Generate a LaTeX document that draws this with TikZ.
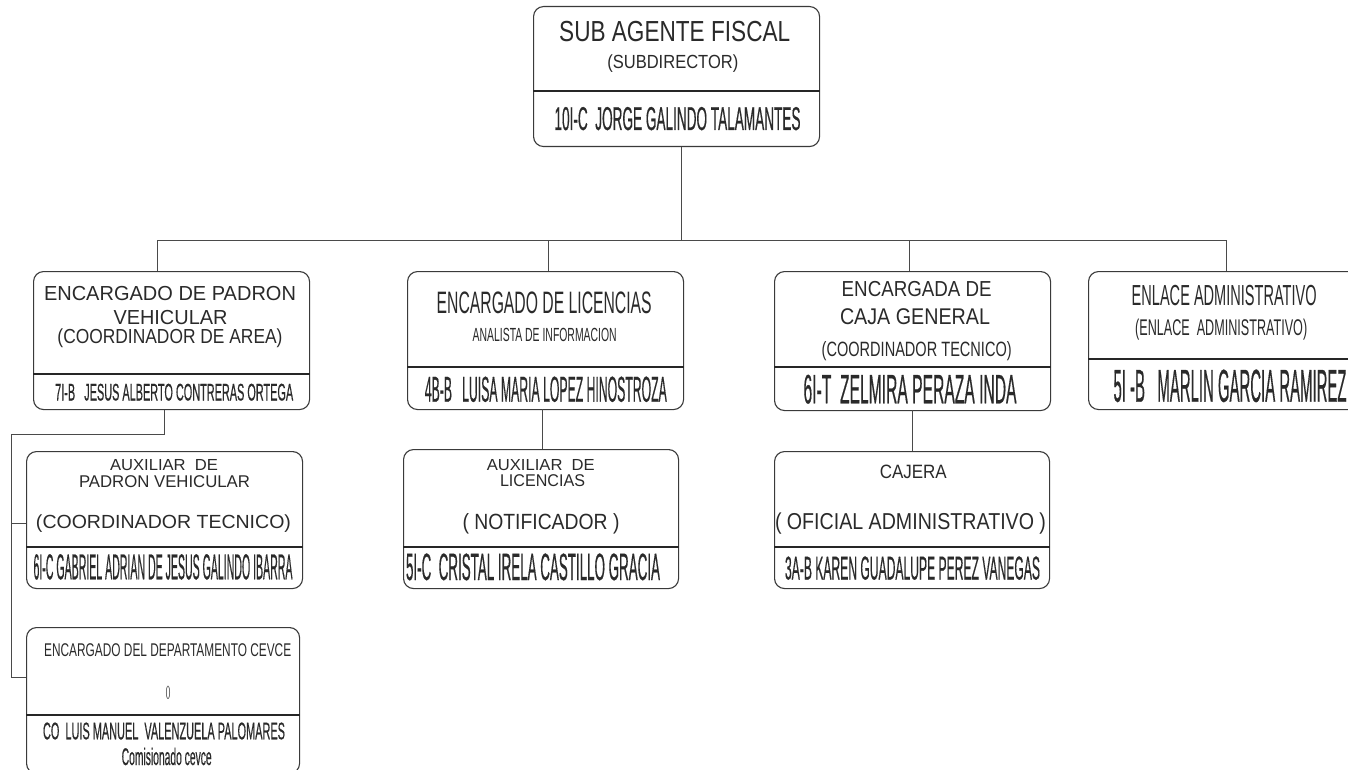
\documentclass[tikz,border=0pt]{standalone}
\usepackage{fontspec}
\setmainfont{Liberation Sans}
\newfontfamily\heavyfont[FakeBold=0.7]{Liberation Sans}
\usepackage{graphicx}
\definecolor{ink}{HTML}{2A2A2A}
\definecolor{edge}{HTML}{3A3A3A}
\definecolor{wire}{HTML}{4A4A4A}
\newsavebox\txbox
% \tx{size}{target width}{text}: natural height, width forced
\newcommand{\tx}[3]{\sbox\txbox{\fontsize{#1pt}{#1pt}\selectfont #3}%
  \pgfmathsetmacro\txfac{#2/\wd\txbox}\scalebox{\txfac}[1]{\usebox\txbox}}
\newcommand{\tb}[3]{\sbox\txbox{\heavyfont\fontsize{#1pt}{#1pt}\selectfont #3}%
  \pgfmathsetmacro\txfac{#2/\wd\txbox}\scalebox{\txfac}[1]{\usebox\txbox}}
\begin{document}
\begin{tikzpicture}[x=1pt,y=-1pt,
  box/.style={draw=edge, line width=1.1pt, rounded corners=10pt, inner sep=0pt, anchor=north west, fill=white},
  divline/.style={draw=black!85, line width=1.8pt},
  conn/.style={draw=wire, line width=0.9pt},
  txt/.style={anchor=base, inner sep=0pt, text=ink}]
\useasboundingbox (0,0) rectangle (1348,770);
\clip (0,0) rectangle (1348,770);
\fill[white] (0,0) rectangle (1348,770);

% ---------- boxes ----------
\node[box, minimum width=286pt, minimum height=140pt] (b0) at (533,6) {};
\node[box, minimum width=276pt, minimum height=138pt] (b1) at (33,271) {};
\node[box, minimum width=276pt, minimum height=137pt] (b2) at (26,451) {};
\node[box, minimum width=273pt, minimum height=146pt] (b3) at (26,627) {};
\node[box, minimum width=276pt, minimum height=138pt] (b4) at (407,271) {};
\node[box, minimum width=275pt, minimum height=139pt] (b5) at (403,449) {};
\node[box, minimum width=276pt, minimum height=139pt] (b6) at (774,271) {};
\node[box, minimum width=275pt, minimum height=137pt] (b7) at (774,451) {};
\node[box, minimum width=280pt, minimum height=138pt] (b8) at (1088,271) {};

% ---------- dividers ----------
\draw[divline] (b0.west |- 0,91) -- (b0.east |- 0,91);
\draw[divline] (b1.west |- 0,374) -- (b1.east |- 0,374);
\draw[divline] (b2.west |- 0,547) -- (b2.east |- 0,547);
\draw[divline] (b3.west |- 0,715) -- (b3.east |- 0,715);
\draw[divline] (b4.west |- 0,367) -- (b4.east |- 0,367);
\draw[divline] (b5.west |- 0,547) -- (b5.east |- 0,547);
\draw[divline] (b6.west |- 0,367) -- (b6.east |- 0,367);
\draw[divline] (b7.west |- 0,547) -- (b7.east |- 0,547);
\draw[divline] (b8.west |- 0,359) -- (b8.east |- 0,359);

% ---------- connectors ----------
\coordinate (bus0) at (681,240);
\coordinate (busL) at (157,240);
\coordinate (busR) at (1226,240);
\coordinate (elbow1) at (164,434);
\coordinate (elbow2) at (11,434);
\draw[conn] (b0.south -| bus0) -- (bus0);
\draw[conn] (busL) -- (busR);
\draw[conn] (busL) -- (busL |- b1.north);
\draw[conn] (548,240) -- (548,240 |- b4.north);
\draw[conn] (909,240) -- (909,240 |- b6.north);
\draw[conn] (busR) -- (busR |- b8.north);
\draw[conn] (elbow1 |- b1.south) -- (elbow1) -- (elbow2) -- (elbow2 |- 0,677) -- (b3.west |- 0,677);
\draw[conn] (elbow2 |- 0,523) -- (b2.west |- 0,523);
\draw[conn] (542,409) -- (542,409 |- b5.north);
\draw[conn] (912,410) -- (912,410 |- b7.north);

% ---------- texts: top ----------
\node[txt] (t0a) at (674.7,42) {\tx{29}{231}{SUB AGENTE FISCAL}};
\node[txt] (t0b) at (672.8,68.3) {\tx{19}{131}{(SUBDIRECTOR)}};
\node[txt] (t0c) at (677.5,130) {\tb{33}{246}{10I-C\ \ JORGE GALINDO TALAMANTES}};

% ---------- padron ----------
\node[txt] (t1a) at (170,300.7) {\tx{20.3}{252}{ENCARGADO DE PADRON}};
\node[txt] (t1b) at (170.5,324) {\tx{20.3}{114}{VEHICULAR}};
\node[txt] (t1c) at (170,343.3) {\tx{20.3}{225}{(COORDINADOR DE AREA)}};
\node[txt] (t1d) at (174.2,400.5) {\tb{24}{238}{7I-B\ \ \ JESUS ALBERTO CONTRERAS ORTEGA}};

% ---------- auxiliar padron ----------
\node[txt] (t2a) at (164,470) {\tx{16}{108}{AUXILIAR\ \ DE}};
\node[txt] (t2b) at (164.5,487.7) {\tx{17}{171}{PADRON VEHICULAR}};
\node[txt] (t2c) at (163.5,528.3) {\tx{19}{255}{(COORDINADOR TECNICO)}};
\node[txt] (t2d) at (163,579.3) {\tb{36}{259}{6I-C GABRIEL ADRIAN DE JESUS GALINDO IBARRA}};

% ---------- cevce ----------
\node[txt] (t3a) at (167.7,656) {\tx{18.4}{247}{ENCARGADO DEL DEPARTAMENTO CEVCE}};
\node[txt] (t3b) at (168,696) {\tx{14}{5}{()}};
\node[txt] (t3c) at (164,739.3) {\tb{24}{242}{CO\ \ LUIS MANUEL\ \ VALENZUELA PALOMARES}};
\node[txt] (t3d) at (166.7,765) {\tb{24}{90}{Comisionado cevce}};

% ---------- licencias ----------
\node[txt] (t4a) at (544.2,313.3) {\tx{31}{215}{ENCARGADO DE LICENCIAS}};
\node[txt] (t4b) at (544.7,341.7) {\tx{19}{144}{ANALISTA DE INFORMACION}};
\node[txt] (t4c) at (545.8,401.7) {\tb{36}{242}{4B-B\ \ \ LUISA MARIA LOPEZ HINOSTROZA}};

% ---------- auxiliar licencias ----------
\node[txt] (t5a) at (540.8,470) {\tx{16}{108}{AUXILIAR\ \ DE}};
\node[txt] (t5b) at (542.5,486.7) {\tx{17}{85}{LICENCIAS}};
\node[txt] (t5c) at (541,529.3) {\tx{22}{157}{( NOTIFICADOR )}};
\node[txt] (t5d) at (533,580) {\tb{38}{254}{5I-C\ \ CRISTAL IRELA CASTILLO GRACIA}};

% ---------- caja ----------
\node[txt] (t6a) at (916.7,296.7) {\tx{21.7}{150}{ENCARGADA DE}};
\node[txt] (t6b) at (915,324) {\tx{22.7}{150}{CAJA GENERAL}};
\node[txt] (t6c) at (916.7,356.7) {\tx{20.7}{190}{(COORDINADOR TECNICO)}};
\node[txt] (t6d) at (910,403.3) {\tb{41}{213}{6I-T\ \ ZELMIRA PERAZA INDA}};

% ---------- cajera ----------
\node[txt] (t7a) at (913.3,478.3) {\tx{19.3}{67}{CAJERA}};
\node[txt] (t7b) at (910.5,529.3) {\tx{23}{271}{( OFICIAL ADMINISTRATIVO )}};
\node[txt] (t7c) at (912.5,579.5) {\tb{33}{255}{3A-B KAREN GUADALUPE PEREZ VANEGAS}};

% ---------- enlace ----------
\node[txt] (t8a) at (1224.2,305) {\tx{29}{185}{ENLACE ADMINISTRATIVO}};
\node[txt] (t8b) at (1221.2,335) {\tx{22.7}{172}{(ENLACE\ \ ADMINISTRATIVO)}};
\node[txt] (t8c) at (1230,401.7) {\tb{46}{233}{5I -B\ \ \ MARLIN GARCIA RAMIREZ}};
\end{tikzpicture}
\end{document}
